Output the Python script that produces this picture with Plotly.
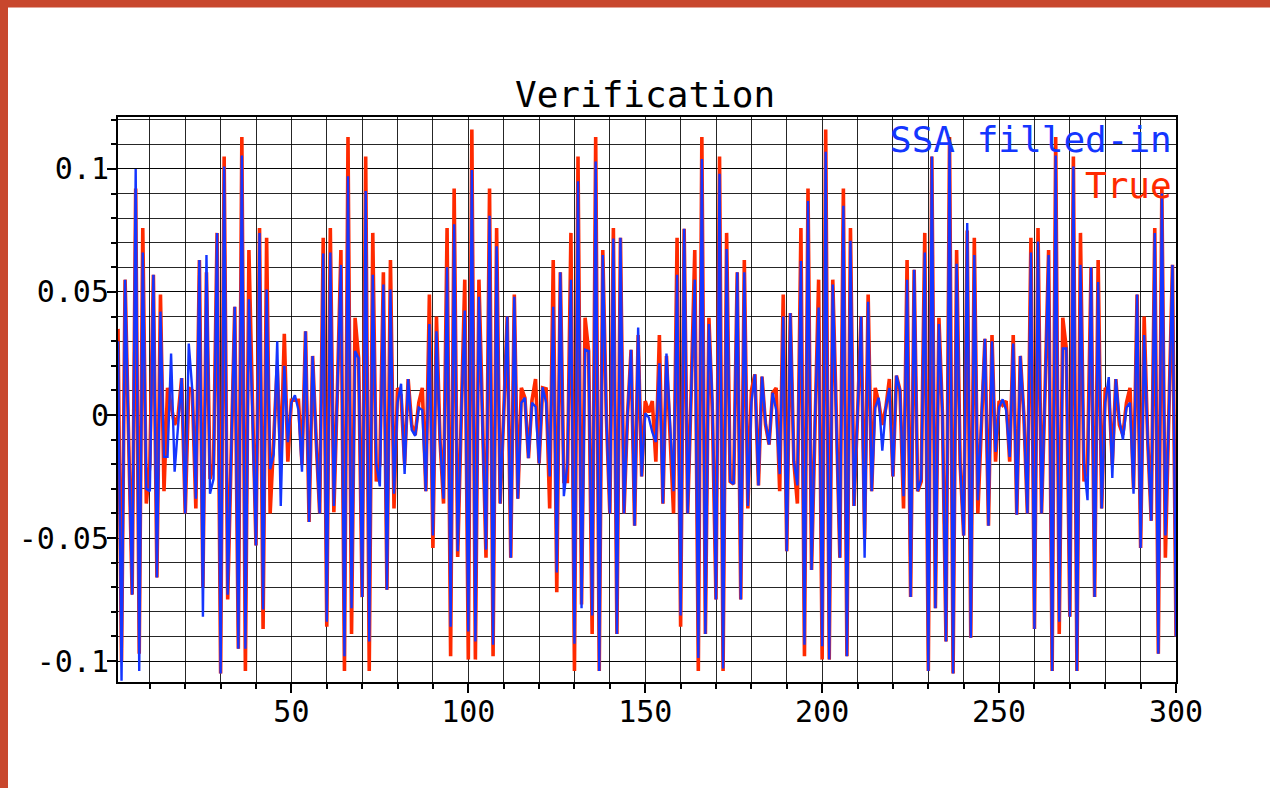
import plotly.graph_objects as go

# ---------------- data ----------------
sample_index = list(range(1, 301))

true_vals = [
    0.035, -0.100, 0.055, -0.010, -0.073, 0.092, -0.097, 0.076, -0.036, -0.020,
    0.057, -0.066, 0.049, -0.031, 0.011, 0.004, -0.004, 0.000, 0.015, -0.040,
    0.011, 0.010, -0.038, 0.063, -0.070, 0.058, -0.026, -0.020, 0.074, -0.105,
    0.105, -0.075, -0.015, 0.044, -0.095, 0.113, -0.104, 0.067, 0.005, -0.053,
    0.076, -0.087, 0.072, -0.040, -0.010, 0.020, -0.020, 0.033, -0.019, 0.006,
    0.006, 0.006, -0.020, 0.034, -0.0435, 0.024, -0.010, -0.040, 0.072, -0.086,
    0.076, -0.0395, 0.010, 0.067, -0.104, 0.113, -0.089, 0.0395, 0.023, -0.074,
    0.105, -0.104, 0.074, -0.027, -0.020, 0.058, -0.071, 0.063, -0.038, 0.011,
    0.008, -0.020, 0.0146, -0.004, -0.008, 0.005, 0.011, -0.031, 0.049, -0.054,
    0.040, -0.010, -0.036, 0.076, -0.098, 0.092, -0.0577, 0.000, 0.055, -0.0994,
    0.116, -0.0994, 0.055, 0.000, -0.058, 0.092, -0.098, 0.076, -0.036, 0.000,
    0.040, -0.058, 0.049, -0.034, 0.011, 0.007, -0.0175, 0.006, 0.0146, -0.0197,
    0.011, 0.0106, -0.038, 0.063, -0.072, 0.058, -0.027, -0.027, 0.074, -0.104,
    0.105, -0.077, 0.0395, 0.026, -0.089, 0.113, -0.104, 0.067, 0.000, -0.040,
    0.076, -0.089, 0.072, -0.040, 0.000, 0.0265, -0.045, 0.0325, -0.025, 0.0057,
    0.001, 0.0057, -0.019, 0.0325, -0.036, 0.024, -0.010, -0.040, 0.072, -0.086,
    0.0757, -0.040, 0.010, 0.067, -0.104, 0.113, -0.089, 0.0395, 0.000, -0.075,
    0.105, -0.104, 0.074, -0.027, -0.028, 0.058, -0.075, 0.063, -0.038, 0.010,
    0.0165, -0.0286, 0.0156, -0.004, -0.012, 0.009, 0.011, -0.031, 0.049, -0.0554,
    0.0414, -0.019, -0.036, 0.076, -0.098, 0.092, -0.063, 0.000, 0.055, -0.0994,
    0.116, -0.0994, 0.055, 0.000, -0.058, 0.092, -0.098, 0.076, -0.037, 0.000,
    0.040, -0.050, 0.049, -0.031, 0.011, 0.005, -0.004, 0.003, 0.0146, -0.025,
    0.016, 0.010, -0.038, 0.063, -0.074, 0.059, -0.031, -0.027, 0.074, -0.104,
    0.105, -0.0785, 0.0395, 0.000, -0.092, 0.113, -0.105, 0.067, -0.020, -0.049,
    0.075, -0.0905, 0.072, -0.040, 0.000, 0.031, -0.045, 0.0325, -0.019, 0.0057,
    0.004, 0.0057, -0.019, 0.0325, -0.0405, 0.024, 0.000, -0.040, 0.072, -0.087,
    0.076, -0.040, 0.010, 0.067, -0.104, 0.113, -0.089, 0.0395, 0.027, -0.082,
    0.105, -0.104, 0.074, -0.027, -0.020, 0.060, -0.074, 0.063, -0.038, 0.011,
    0.010, -0.020, 0.0146, -0.004, -0.008, 0.005, 0.011, -0.030, 0.049, -0.054,
    0.040, -0.010, -0.043, 0.076, -0.097, 0.092, -0.058, 0.000, 0.061, -0.090,
]

ssa_vals = [
    0.030, -0.108, 0.055, -0.010, -0.073, 0.100, -0.104, 0.066, -0.030, -0.031,
    0.057, -0.066, 0.042, -0.017, -0.017, 0.025, -0.023, -0.004, 0.015, -0.040,
    0.029, 0.010, -0.034, 0.063, -0.082, 0.065, -0.032, -0.026, 0.074, -0.105,
    0.101, -0.073, -0.015, 0.044, -0.095, 0.1055, -0.095, 0.047, 0.000, -0.053,
    0.074, -0.079, 0.051, -0.022, -0.016, 0.030, -0.037, 0.020, -0.011, 0.005,
    0.008, 0.002, -0.023, 0.034, -0.0435, 0.024, -0.010, -0.040, 0.0656, -0.084,
    0.066, -0.037, 0.010, 0.061, -0.098, 0.097, -0.0785, 0.026, 0.023, -0.074,
    0.091, -0.092, 0.057, -0.020, -0.029, 0.053, -0.071, 0.051, -0.032, 0.005,
    0.0127, -0.024, 0.0146, -0.006, -0.0085, 0.003, 0.002, -0.031, 0.037, -0.049,
    0.034, -0.010, -0.034, 0.060, -0.086, 0.0775, -0.0554, 0.000, 0.0425, -0.088,
    0.0996, -0.092, 0.048, 0.000, -0.0547, 0.081, -0.0934, 0.0686, -0.036, 0.000,
    0.040, -0.058, 0.048, -0.034, 0.005, 0.007, -0.0175, 0.005, 0.0034, -0.0197,
    0.0113, 0.005, -0.025, 0.044, -0.064, 0.058, -0.033, -0.020, 0.055, -0.093,
    0.095, -0.0785, 0.0265, 0.026, -0.0815, 0.103, -0.104, 0.065, 0.000, -0.040,
    0.0717, -0.089, 0.072, -0.040, 0.000, 0.0265, -0.045, 0.0355, -0.025, 0.0007,
    -0.001, -0.007, -0.011, 0.021, -0.036, 0.025, -0.005, -0.031, 0.057, -0.0815,
    0.0757, -0.040, 0.010, 0.055, -0.0987, 0.104, -0.089, 0.037, 0.005, -0.075,
    0.098, -0.103, 0.0675, -0.027, -0.028, 0.058, -0.075, 0.058, -0.037, 0.005,
    0.0165, -0.0286, 0.0156, -0.003, -0.012, 0.009, 0.002, -0.024, 0.040, -0.0554,
    0.0414, -0.019, -0.0286, 0.0626, -0.0934, 0.087, -0.063, 0.000, 0.0437, -0.094,
    0.107, -0.0994, 0.053, 0.000, -0.058, 0.085, -0.098, 0.0708, -0.037, 0.000,
    0.040, -0.058, 0.046, -0.031, 0.003, 0.007, -0.0145, 0.003, 0.011, -0.025,
    0.016, 0.010, -0.033, 0.055, -0.074, 0.059, -0.031, -0.026, 0.066, -0.104,
    0.105, -0.0785, 0.037, 0.000, -0.092, 0.112, -0.105, 0.0615, -0.020, -0.049,
    0.078, -0.0905, 0.065, -0.0346, 0.000, 0.031, -0.045, 0.030, -0.015, 0.003,
    0.0064, 0.002, -0.017, 0.029, -0.0405, 0.024, 0.000, -0.040, 0.066, -0.087,
    0.0705, -0.040, 0.010, 0.065, -0.104, 0.1055, -0.084, 0.027, 0.027, -0.082,
    0.101, -0.104, 0.061, -0.020, -0.0346, 0.060, -0.074, 0.054, -0.038, 0.005,
    0.0154, -0.0256, 0.0146, -0.002, -0.010, 0.003, 0.005, -0.032, 0.049, -0.054,
    0.0325, -0.010, -0.043, 0.074, -0.097, 0.090, -0.049, 0.000, 0.061, -0.090,
]

y_tick_vals = [-0.1, -0.05, 0, 0.05, 0.1]
y_tick_text = ["-0.1", "-0.05", "0", "0.05", "0.1"]

title_text = "Verification"
ssa_name = "SSA filled-in"
true_name = "True"

# ---------------- styling ----------------
W, H = 1270, 788
ML, MR, MT, MB = 118, 94, 117, 106
PW, PH = W - ML - MR, H - MT - MB

RED = "#ff2a00"
BLUE = "#1436ff"
RUST = "#c8472d"
GRID = "rgba(0,0,0,0.85)"
MONO = "DejaVu Sans Mono"


def px_x(p):
    return (p - ML) / PW


def px_y(p):
    return (H - MB - p) / PH


fig = go.Figure()
fig.add_trace(go.Scatter(x=sample_index, y=true_vals, mode="lines", name=true_name,
                         line=dict(color=RED, width=3.6), showlegend=False))
fig.add_trace(go.Scatter(x=sample_index, y=ssa_vals, mode="lines", name=ssa_name,
                         line=dict(color=BLUE, width=2.4), showlegend=False))

axis_common = dict(
    showline=True, mirror=True, linecolor="black", linewidth=2,
    showgrid=True, gridcolor=GRID, gridwidth=1, zeroline=False,
    ticks="outside", tickcolor="black", tickwidth=1.5, ticklen=9,
    tickfont=dict(family=MONO, size=30, color="black"),
)

fig.update_layout(
    width=W, height=H,
    margin=dict(l=ML, r=MR, t=MT, b=MB, pad=0),
    paper_bgcolor="white", plot_bgcolor="white",
    showlegend=False,
    xaxis=dict(range=[1, 300], tick0=0, dtick=50, ticklabelstandoff=-7,
               minor=dict(dtick=10, tick0=0, ticks="outside", ticklen=5,
                          tickcolor="black", showgrid=True, gridcolor=GRID, gridwidth=1),
               **axis_common),
    yaxis=dict(range=[-0.1085, 0.1211], tickmode="array",
               tickvals=y_tick_vals, ticktext=y_tick_text, ticklabelstandoff=-8,
               minor=dict(dtick=0.01, tick0=0, ticks="outside", ticklen=5,
                          tickcolor="black", showgrid=True, gridcolor=GRID, gridwidth=1),
               **axis_common),
)

# title and in-plot legend labels
fig.add_annotation(text=title_text, xref="paper", yref="paper",
                   x=px_x(645), y=px_y(94), xanchor="center", yanchor="middle",
                   showarrow=False, font=dict(family=MONO, size=36, color="black"))
fig.add_annotation(text=ssa_name, xref="paper", yref="paper",
                   x=px_x(1174), y=px_y(139), xanchor="right", yanchor="middle",
                   showarrow=False, font=dict(family=MONO, size=36, color=BLUE))
fig.add_annotation(text=true_name, xref="paper", yref="paper",
                   x=px_x(1174), y=px_y(185), xanchor="right", yanchor="middle",
                   showarrow=False, font=dict(family=MONO, size=36, color=RED))

# rust frame on the top and left edges of the page
fig.add_shape(type="rect", xref="paper", yref="paper", layer="above",
              x0=px_x(0), x1=px_x(W), y0=px_y(0), y1=px_y(7.5),
              fillcolor=RUST, line=dict(width=0))
fig.add_shape(type="rect", xref="paper", yref="paper", layer="above",
              x0=px_x(0), x1=px_x(8), y0=px_y(0), y1=px_y(H),
              fillcolor=RUST, line=dict(width=0))

fig.write_html("out.html")
